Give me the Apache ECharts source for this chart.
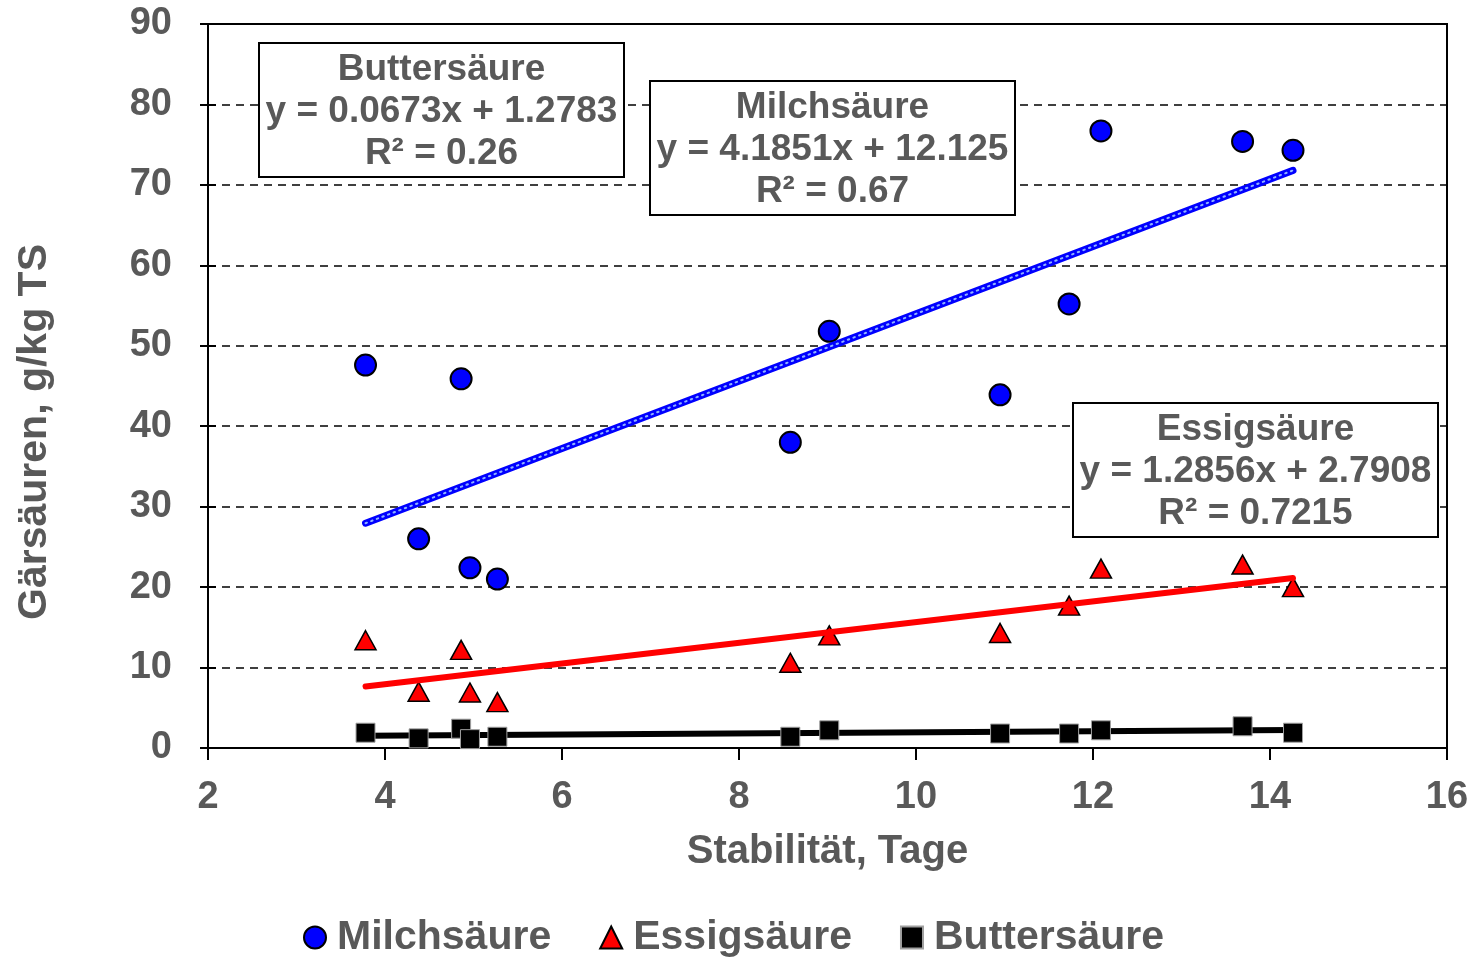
<!DOCTYPE html>
<html>
<head>
<meta charset="utf-8">
<script src="https://cdn.jsdelivr.net/npm/echarts@6/dist/echarts.min.js"></script>
<style>
  html, body { margin: 0; padding: 0; background: #ffffff; }
  #chart { width: 1483px; height: 958px; }
</style>
</head>
<body>
<div id="chart"></div>
<script>
// Stabilität (Tage) je Probe
const stabilitaet = [3.78, 4.38, 4.86, 4.96, 5.27, 8.58, 9.02, 10.95, 11.73, 12.09, 13.69, 14.26];

// Gärsäuren, g/kg TS
const milchsaeure = [47.6, 26.0, 45.9, 22.4, 21.0, 38.0, 51.8, 43.9, 55.2, 76.7, 75.4, 74.3];
const essigsaeure = [13.4, 7.0, 12.2, 6.9, 5.7, 10.6, 14.0, 14.3, 17.7, 22.3, 22.8, 20.0];
const buttersaeure = [1.9, 1.2, 2.4, 1.1, 1.4, 1.4, 2.2, 1.8, 1.8, 2.2, 2.7, 1.9];

// Lineare Trends: [Steigung, Achsenabschnitt, R²]
const trendMilch = [4.1851, 12.125, '0.67'];
const trendEssig = [1.2856, 2.7908, '0.7215'];
const trendButter = [0.0673, 1.2783, '0.26'];

const seriesNames = ['Milchsäure', 'Essigsäure', 'Buttersäure'];
const yTicks = [0, 10, 20, 30, 40, 50, 60, 70, 80, 90];
const xTicks = [2, 4, 6, 8, 10, 12, 14, 16];

const FONT = '"Liberation Sans", Arial, sans-serif';
const GREY = '#595959';

const pts = ys => stabilitaet.map((x, i) => [x, ys[i]]);
const xMin = Math.min(...stabilitaet);
const xMax = Math.max(...stabilitaet);
const trendLine = t => [[xMin, t[0] * xMin + t[1]], [xMax, t[0] * xMax + t[1]]];

const eqText = (name, t) => [
  name,
  'y = ' + t[0] + 'x + ' + t[1],
  'R² = ' + t[2]
].join('\n');

// Kasten mit Regressionsgleichung
function box(name, t, left, top) {
  const w = 365, h = 134;
  return {
    type: 'group', left: left, top: top, z: 100,
    children: [
      { type: 'rect', z: 100, shape: { x: 0, y: 0, width: w, height: h },
        style: { fill: '#ffffff', stroke: '#000000', lineWidth: 2 } },
      { type: 'text', z: 101, x: w / 2, y: h / 2 + 2,
        style: { text: eqText(name, t), font: 'bold 37px ' + FONT, fill: GREY,
                 align: 'center', verticalAlign: 'middle', lineHeight: 42 } }
    ]
  };
}

const chart = echarts.init(document.getElementById('chart'), null, { renderer: 'canvas' });

const axisLineStyle = { color: '#000000', width: 2 };

chart.setOption({
  animation: false,
  backgroundColor: '#ffffff',
  grid: {
    left: 208, right: 36, top: 24, bottom: 210,
    show: true, borderColor: '#000000', borderWidth: 2, backgroundColor: 'transparent'
  },
  xAxis: {
    type: 'value', min: xTicks[0], max: xTicks[xTicks.length - 1], interval: 2,
    name: 'Stabilität, Tage', nameLocation: 'middle', nameGap: 84,
    nameTextStyle: { fontFamily: FONT, fontWeight: 'bold', fontSize: 40, color: GREY },
    axisLine: { lineStyle: axisLineStyle },
    axisTick: { show: true, length: 12, lineStyle: { color: '#000', width: 2 } },
    axisLabel: { margin: 31, fontFamily: FONT, fontWeight: 'bold', fontSize: 38, color: GREY },
    splitLine: { show: false }
  },
  yAxis: [{
    type: 'value', min: yTicks[0], max: yTicks[yTicks.length - 1], interval: 10,
    axisLine: { show: true, lineStyle: axisLineStyle },
    axisTick: { show: true, length: 8, lineStyle: { color: '#000', width: 2 } },
    axisLabel: { margin: 36, fontFamily: FONT, fontWeight: 'bold', fontSize: 38, color: GREY },
    splitLine: { show: true, lineStyle: { color: '#000000', width: 1.5, type: [8, 6] } }
  }, {
    // innere Hälfte der durchgehenden Teilstriche
    type: 'value', position: 'left', min: yTicks[0], max: yTicks[yTicks.length - 1], interval: 10,
    axisLine: { show: false },
    axisTick: { show: true, inside: true, length: 8, lineStyle: { color: '#000', width: 2 } },
    axisLabel: { show: false },
    splitLine: { show: false }
  }],
  legend: {
    data: [
      { name: seriesNames[0], icon: 'circle' },
      { name: seriesNames[1], icon: 'triangle' },
      { name: seriesNames[2], icon: 'rect' }
    ],
    left: 303, top: 917, padding: 0, itemGap: 48, itemWidth: 22, itemHeight: 22,
    textStyle: { fontFamily: FONT, fontWeight: 'bold', fontSize: 41, color: GREY, padding: [0, 0, 0, 6] }
  },
  graphic: [
    { type: 'text', x: 35, y: 432, rotation: Math.PI / 2, z: 100,
      style: { text: 'Gärsäuren, g/kg TS', font: 'bold 41px ' + FONT, fill: GREY,
               align: 'center', verticalAlign: 'middle' } },
    box('Buttersäure', trendButter, 258, 42),
    box('Milchsäure', trendMilch, 649, 80),
    box('Essigsäure', trendEssig, 1072, 402)
  ],
  series: [
    { name: seriesNames[0], type: 'scatter', data: pts(milchsaeure), z: 3,
      symbol: 'circle', symbolSize: 21,
      itemStyle: { color: '#0000ff', borderColor: '#000000', borderWidth: 2, opacity: 1 } },
    { name: seriesNames[1], type: 'scatter', data: pts(essigsaeure), z: 3,
      symbol: 'triangle', symbolSize: [21, 19],
      itemStyle: { color: '#ff0000', borderColor: '#000000', borderWidth: 1.5, opacity: 1 } },
    { name: seriesNames[2], type: 'scatter', data: pts(buttersaeure), z: 3,
      symbol: 'rect', symbolSize: 19,
      itemStyle: { color: '#000000', borderColor: '#a0a0a0', borderWidth: 1, opacity: 1 } },

    // Trendlinien
    { name: 'Trend Milchsäure', type: 'line', data: trendLine(trendMilch), z: 4,
      symbol: 'none', silent: true,
      lineStyle: { color: '#0000ff', width: 7, cap: 'round' } },
    { name: 'Trend Milchsäure innen', type: 'line', data: trendLine(trendMilch), z: 5,
      symbol: 'none', silent: true,
      lineStyle: { color: '#8fb3ff', width: 2, type: [1.5, 4.5], cap: 'round' } },
    { name: 'Trend Essigsäure', type: 'line', data: trendLine(trendEssig), z: 4,
      symbol: 'none', silent: true,
      lineStyle: { color: '#ff0000', width: 6, cap: 'round' } },
    { name: 'Trend Buttersäure', type: 'line', data: trendLine(trendButter), z: 2,
      symbol: 'none', silent: true,
      lineStyle: { color: '#000000', width: 6, cap: 'round' } }
  ]
});
</script>
</body>
</html>
